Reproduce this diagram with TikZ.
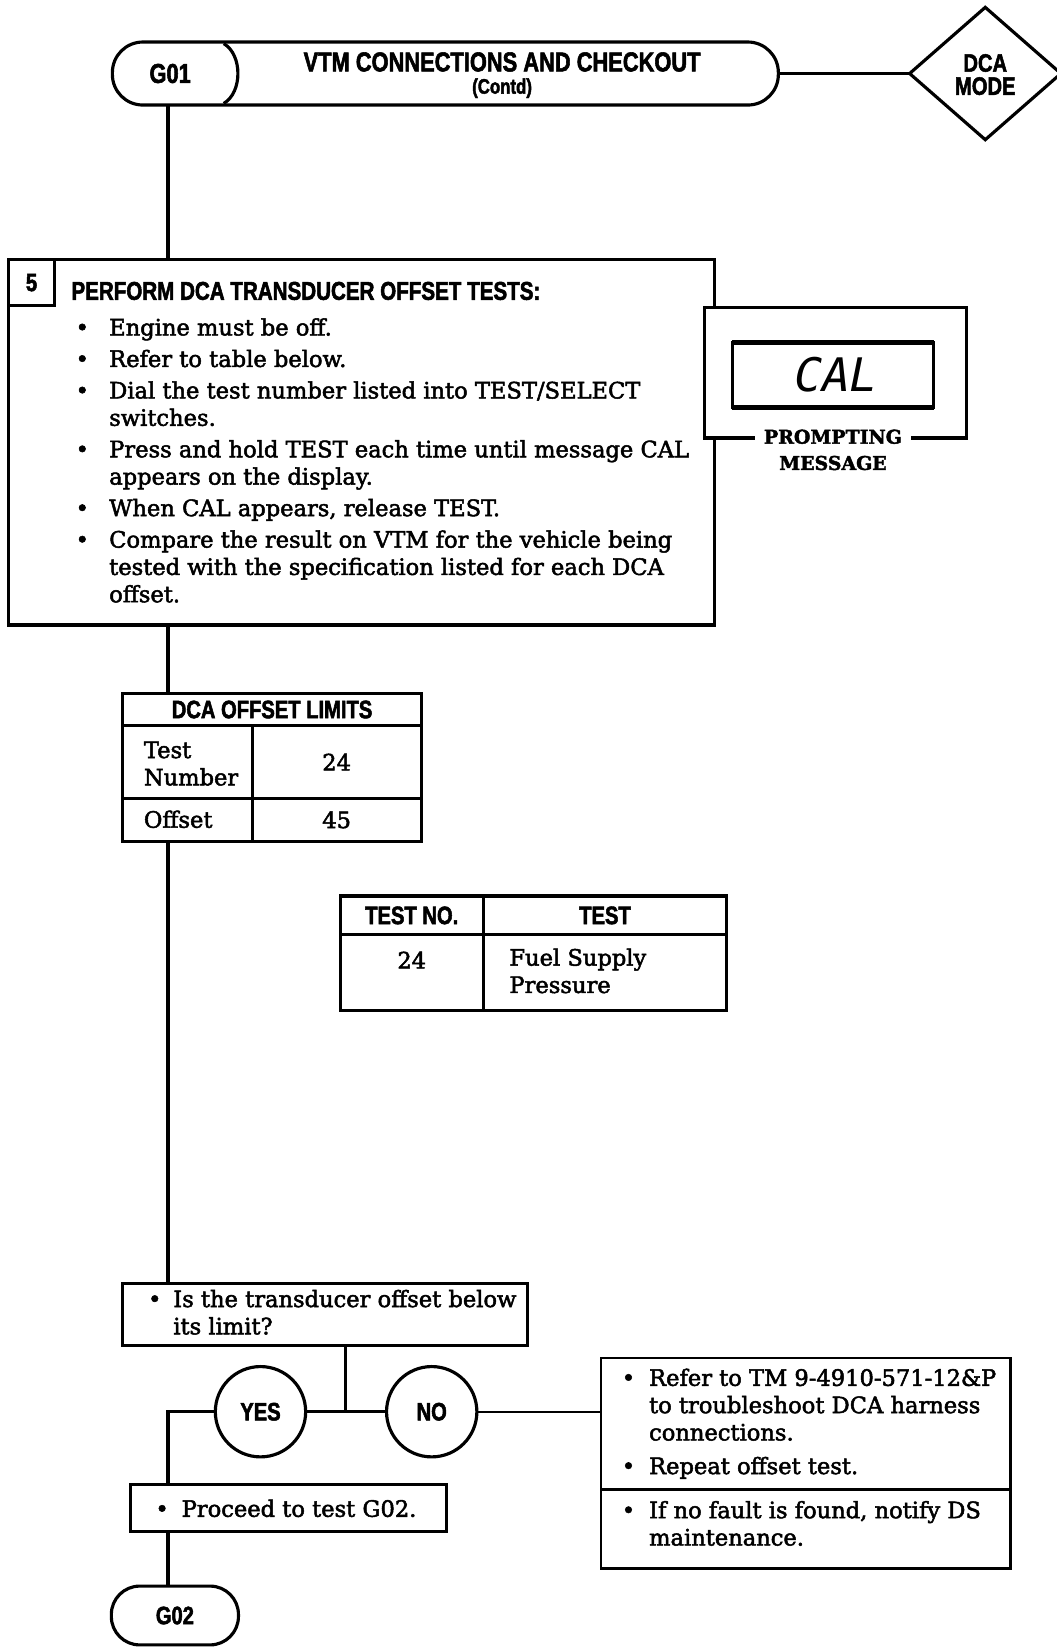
\documentclass[tikz,border=0pt]{standalone}
\usepackage{fontspec}
\setmainfont[FakeBold=2.2]{DejaVu Serif}
\newfontfamily\hfont[FakeStretch=0.8,FakeBold=2]{Liberation Sans}
\newfontfamily\lcdfont[FakeSlant=0.2]{DejaVu Sans Mono}
\usetikzlibrary{shapes.geometric}
\newcommand{\bitem}[1]{\makebox[#1][l]{\textbullet}}
\newcommand{\contind}[1]{\hspace*{#1}}
\begin{document}
\begin{tikzpicture}[x=1pt,y=-1pt,
  every node/.style={inner sep=0pt, outer sep=0pt},
  ln/.style={line width=3pt},
  thinln/.style={line width=2.2pt},
  boxs/.style={draw, line width=3pt, rectangle, fill=white},
  pill/.style={draw, line width=3pt, rectangle, rounded corners=#1, fill=white},
  hd/.style={font=\hfont\bfseries\fontsize{#1}{#1}\selectfont},
  hd/.default=24,
  bd/.style={font=\fontsize{21.5}{26}\selectfont},
]
\useasboundingbox (0,0) rectangle (1006,1568);
\coordinate (spine) at (160,0);

% header
\node[pill=29pt, minimum width=634pt, minimum height=60pt] (hdr) at (424,70) {};
\draw[ln] (213,41.5) .. controls (231,52) and (231,88) .. (213,98.5);
\node[hd=26] (g01) at (162,70) {G01};
\node[hd=26] (title) at (478,59) {VTM CONNECTIONS AND CHECKOUT};
\node[hd=20] (contd) at (478,84) {(Contd)};
\node[draw, diamond, line width=3pt, minimum width=144pt, minimum height=126pt, fill=white] (dca) at (938,70) {};
\node[hd=24, align=center] (dcat) at (938,71) {DCA\\[-2pt]MODE};
\draw[ln] (hdr.east) -- (dca.west);

% step 5
\node[boxs, minimum width=672pt, minimum height=348pt] (step) at (344,421) {};
\draw[ln] (spine |- hdr.south) -- (spine |- step.north);
\node[boxs, minimum width=44pt, minimum height=44pt, hd=24] (num) at (30,269) {5};
\node[hd=24.5, anchor=west] (stephd) at (68,277) {PERFORM DCA TRANSDUCER OFFSET TESTS:};
\node[bd, anchor=north west, align=left] (stepbody) at (72,303) {%
\bitem{32pt}Engine must be off.\\[4pt]
\bitem{32pt}Refer to table below.\\[4pt]
\bitem{32pt}Dial the test number listed into TEST/SELECT\\
\contind{32pt}switches.\\[4pt]
\bitem{32pt}Press and hold TEST each time until message CAL\\
\contind{32pt}appears on the display.\\[4pt]
\bitem{32pt}When CAL appears, release TEST.\\[4pt]
\bitem{32pt}Compare the result on VTM for the vehicle being\\
\contind{32pt}tested with the specification listed for each DCA\\
\contind{32pt}offset.};

% prompting message
\node[draw, line width=3pt, fill=white, minimum width=249pt, minimum height=124pt] (pbox) at (795.5,355) {};
\node[draw, line width=3pt, minimum width=192pt, minimum height=62pt] (disp) at (793,357) {};
\draw[line width=5pt] (disp.north west) -- (disp.north east);
\draw[line width=5pt] (disp.south west) -- (disp.south east);
\node[font=\lcdfont\fontsize{44}{44}\selectfont] (cal) at (793,357) {CAL};
\node[font=\bfseries\fontsize{18}{25}\selectfont, fill=white, align=center, anchor=north, inner xsep=9pt] (pmsg) at (793,409) {PROMPTING\\MESSAGE};

% DCA offset limits table
\node[boxs, minimum width=284pt, minimum height=31pt, hd=24] (limhdr) at (259,675.5) {DCA OFFSET LIMITS};
\node[boxs, minimum width=123pt, minimum height=69pt] (r1c1) at (178.5,725.5) {};
\node[boxs, minimum width=161pt, minimum height=69pt, bd] (r1c2) at (320.5,725.5) {24};
\node[boxs, minimum width=123pt, minimum height=41pt] (r2c1) at (178.5,780.5) {};
\node[boxs, minimum width=161pt, minimum height=41pt, bd] (r2c2) at (320.5,780.5) {45};
\node[bd, align=left, anchor=west] (tnum) at (137,727) {Test\\Number};
\node[bd, anchor=west] (offs) at (137,780) {Offset};
\draw[ln] (spine |- step.south) -- (spine |- limhdr.north);

% test no. table
\node[boxs, minimum width=136pt, minimum height=37pt, hd=24] (h1) at (392,871.5) {TEST NO.};
\node[boxs, minimum width=232pt, minimum height=37pt, hd=24] (h2) at (576,871.5) {TEST};
\node[boxs, minimum width=136pt, minimum height=72pt] (d1) at (392,926) {};
\node[boxs, minimum width=232pt, minimum height=72pt] (d2) at (576,926) {};
\node[bd] (d1t) at (392,914) {24};
\node[bd, align=left, anchor=north west] (d2t) at (485,903) {Fuel Supply\\Pressure};

% question
\node[boxs, minimum width=385pt, minimum height=59pt] (qbox) at (309.5,1251.5) {};
\node[bd, align=left, anchor=north west] (qtext) at (141,1228) {\bitem{24pt}Is the transducer offset below\\\contind{24pt}its limit?};
\draw[ln] (spine |- r2c1.south) -- (spine |- qbox.north);
\node[draw, circle, line width=3pt, minimum size=86pt, fill=white, hd=24] (yes) at (248,1344) {YES};
\node[draw, circle, line width=3pt, minimum size=86pt, fill=white, hd=24] (no) at (411,1344) {NO};
\coordinate (j) at (329,1344);
\draw[ln] (j |- qbox.south) -- (j);
\draw[ln] (yes.east) -- (no.west);

% yes branch
\node[boxs, minimum width=301pt, minimum height=45pt] (proc) at (274.5,1435.5) {};
\node[bd, anchor=west] (proct) at (148,1436) {\bitem{25pt}Proceed to test G02.};
\draw[ln] (yes.west) -| (spine |- proc.north);
\node[pill=27pt, minimum width=121pt, minimum height=56pt, hd=24] (g02) at (166.5,1538) {G02};
\draw[ln] (spine |- proc.south) -- (spine |- g02.north);

% no branch
\node[draw, line width=2.5pt, fill=white, minimum width=390pt, minimum height=125pt] (rb1) at (767,1355.5) {};
\node[draw, line width=2.5pt, fill=white, minimum width=390pt, minimum height=75pt] (rb2) at (767,1455.5) {};
\node[bd, align=left, anchor=north west] (rb1t) at (592,1303) {%
\bitem{26pt}Refer to TM 9-4910-571-12\&P\\
\contind{26pt}to troubleshoot DCA harness\\
\contind{26pt}connections.\\[6pt]
\bitem{26pt}Repeat offset test.};
\node[bd, align=left, anchor=north west] (rb2t) at (592,1429) {%
\bitem{26pt}If no fault is found, notify DS\\
\contind{26pt}maintenance.};
\draw[thinln] (no.east) -- (rb1.west |- no.east);
\end{tikzpicture}
\end{document}
